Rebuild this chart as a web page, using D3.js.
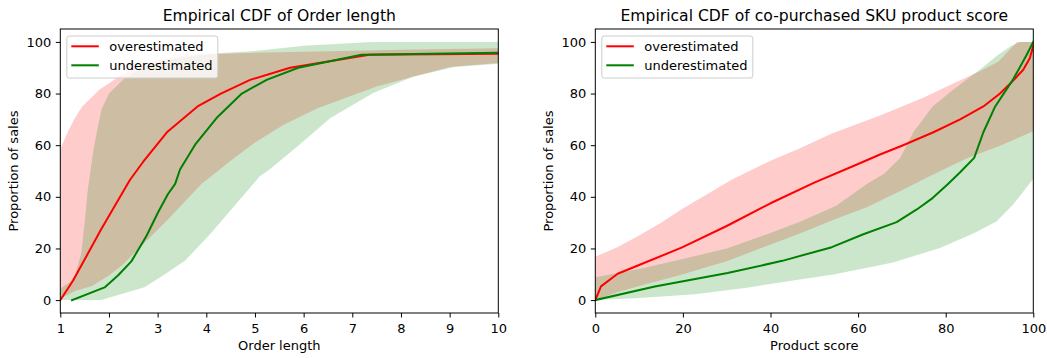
<!DOCTYPE html>
<html><head><meta charset="utf-8">
<script src="https://cdn.jsdelivr.net/npm/d3@7"></script>
<style>
body{margin:0;background:#fff}
svg{display:block}
text{font-family:"DejaVu Sans",sans-serif;fill:#000}
</style>
</head><body>
<svg id="c" width="1047" height="358"></svg>
<script>
// ---------- Data: Order length panel ----------
const olTitle = "Empirical CDF of Order length";
const olXLabel = "Order length";
const olXTicks = [1, 2, 3, 4, 5, 6, 7, 8, 9, 10];
const olLineOverX = [1, 1.26, 1.84, 2.43, 2.7, 3.19, 3.82, 4.3, 4.9, 5.72, 7.35, 10];
const olLineOverY = [0, 7.5, 27.4, 46.5, 53.5, 65, 75, 80, 85.3, 90, 95, 95.4];
const olLineUnderX = [1.24, 1.91, 2.19, 2.46, 2.77, 3.01, 3.21, 3.36, 3.46, 3.77, 4.21, 4.73, 5.24, 5.89, 7.19, 10];
const olLineUnderY = [0, 4.9, 9.6, 15, 24.8, 34, 41, 45, 50.6, 60.2, 70.5, 80, 85.3, 90, 95, 95.8];
const olBandOverUpX = [1, 1.15, 1.3, 1.45, 1.64, 1.8, 2.2, 2.6, 3.0, 3.5, 4, 5, 6, 8, 10];
const olBandOverUpY = [58.5, 65, 70.5, 75, 78.5, 81.5, 86.5, 90.5, 93, 94.5, 95.2, 95.8, 96.2, 97, 97.5];
const olBandOverLoX = [1, 1.3, 1.65, 2, 2.3, 2.8, 3.2, 3.9, 4.5, 5, 5.6, 6.3, 7.5, 8.3, 9, 10];
const olBandOverLoY = [0.5, 3.5, 5.5, 9.5, 14, 23.5, 31, 45, 54, 61, 68, 74.4, 82.7, 86.8, 90.3, 91.8];
const olBandUnderUpX = [1, 1.2, 1.3, 1.43, 1.5, 1.56, 1.62, 1.68, 1.76, 1.85, 2.0, 2.3, 2.65, 3.0, 3.5, 4, 5, 6, 7.4, 10];
const olBandUnderUpY = [4.5, 7, 9.5, 18, 30, 42, 50, 58, 66, 74, 80, 85.5, 89.5, 92, 94, 95.3, 96.5, 98.5, 100, 100];
const olBandUnderLoX = [1, 1.84, 2.73, 3.15, 3.56, 4.1, 4.69, 5.1, 5.3, 5.9, 6.55, 7.43, 8.25, 9.1, 10];
const olBandUnderLoY = [0, 0, 5, 10, 15.2, 26, 39, 48, 50.6, 60, 70.5, 80.2, 86.5, 90.3, 91.5];

// ---------- Data: Product score panel ----------
const psTitle = "Empirical CDF of co-purchased SKU product score";
const psXLabel = "Product score";
const psXTicks = [0, 20, 40, 60, 80, 100];
const psLineOverX = [0, 1.3, 5.1, 10, 19.7, 30, 40, 50, 60, 65, 70, 77.2, 83.3, 88.6, 92.4, 95.4, 97.7, 99.2, 100];
const psLineOverY = [0, 5.3, 10.2, 13.6, 20.3, 28.7, 37.5, 45.5, 52.7, 56.4, 59.8, 65, 70, 75, 80, 85, 89.2, 93.7, 98.5];
const psLineUnderX = [0, 13.6, 30.2, 42.7, 54, 61.2, 68.8, 73.4, 77, 80.4, 83.3, 86.5, 88.6, 91.3, 95.4, 98.5, 100];
const psLineUnderY = [0, 5.3, 10.5, 15.2, 20.5, 25.5, 30.2, 35.1, 39.5, 44.8, 49.5, 55.1, 65, 75, 85.5, 95, 100];
const psBandOverUpX = [0, 5, 10, 15, 20, 31, 40, 47, 54, 65, 75, 80, 88, 92, 96.3, 100];
const psBandOverUpY = [16.8, 20.5, 25, 30, 35.5, 46.5, 54, 59, 64.5, 71.5, 78.5, 82.5, 88.8, 92.3, 100, 100];
const psBandOverLoX = [0, 5, 10, 19, 30, 40, 47, 55, 62, 70, 77, 85, 92, 100];
const psBandOverLoY = [0, 3, 5.5, 9.5, 15, 21.5, 26, 31.5, 36, 42.5, 48.5, 55, 59.5, 65.4];
const psBandUnderUpX = [0, 10, 19, 30, 40, 47, 55, 62, 66, 69.6, 72.6, 77, 81.7, 88, 91.6, 95, 97, 100];
const psBandUnderUpY = [8.8, 12, 15.5, 20, 26, 30.5, 36.5, 45, 49, 55, 65, 75, 81.5, 89.5, 94.5, 98.5, 100, 100];
const psBandUnderLoX = [0, 10, 22.8, 35, 46.7, 54.7, 68, 78.7, 86.3, 91.6, 95.4, 100];
const psBandUnderLoY = [0, 0.8, 2.3, 4.9, 8, 10, 14.6, 20.2, 25.8, 30.4, 37, 47];

const yTicks = [0, 20, 40, 60, 80, 100];
const yLabel = "Proportion of sales";
const seriesNames = ["overestimated", "underestimated"];
const seriesColors = ["#ff0000", "#008000"];

// ---------- Drawing ----------
const svg = d3.select("#c");
const zip = (xs, ys) => xs.map((x, i) => [x, ys[i]]);

const panels = [
  {left: 60.3, right: 498.3, domain: [1, 10], xTicks: olXTicks, title: olTitle, xLabel: olXLabel, yLabX: 17.8,
   bands: [[olBandOverUpX, olBandOverUpY, olBandOverLoX, olBandOverLoY], [olBandUnderUpX, olBandUnderUpY, olBandUnderLoX, olBandUnderLoY]],
   lines: [[olLineOverX, olLineOverY], [olLineUnderX, olLineUnderY]]},
  {left: 595.3, right: 1033.3, domain: [0, 100], xTicks: psXTicks, title: psTitle, xLabel: psXLabel, yLabX: 553,
   bands: [[psBandOverUpX, psBandOverUpY, psBandOverLoX, psBandOverLoY], [psBandUnderUpX, psBandUnderUpY, psBandUnderLoX, psBandUnderLoY]],
   lines: [[psLineOverX, psLineOverY], [psLineUnderX, psLineUnderY]]}
];

const plotTop = 29, plotBottom = 313;
const y = d3.scaleLinear().domain([-5, 105]).range([plotBottom, plotTop]);

panels.forEach((p, pi) => {
  const x = d3.scaleLinear().domain(p.domain).range([p.left, p.right]);
  const g = svg.append("g");
  const clipId = "clip" + pi;
  svg.append("clipPath").attr("id", clipId).append("rect")
    .attr("x", p.left).attr("y", plotTop).attr("width", p.right - p.left).attr("height", plotBottom - plotTop);
  const plot = g.append("g").attr("clip-path", `url(#${clipId})`);
  const line = d3.line().x(d => x(d[0])).y(d => y(d[1]));

  // bands
  p.bands.forEach((b, i) => {
    const pts = zip(b[0], b[1]).concat(zip(b[2], b[3]).reverse());
    plot.append("path").attr("d", line(pts) + "Z")
      .attr("fill", seriesColors[i]).attr("fill-opacity", 0.2).attr("stroke", "none");
  });
  // lines
  p.lines.forEach((l, i) => {
    plot.append("path").attr("d", line(zip(l[0], l[1])))
      .attr("fill", "none").attr("stroke", seriesColors[i]).attr("stroke-width", 2)
      .attr("stroke-linejoin", "round").attr("stroke-linecap", "square");
  });

  // axes
  const xa = g.append("g").attr("transform", `translate(0,${plotBottom})`)
    .call(d3.axisBottom(x).tickValues(p.xTicks).tickFormat(d3.format("d")).tickSize(4.5).tickPadding(4.5));
  const ya = g.append("g").attr("transform", `translate(${p.left},0)`)
    .call(d3.axisLeft(y).tickValues(yTicks).tickFormat(d3.format("d")).tickSize(4.5).tickPadding(4.5));
  [xa, ya].forEach(a => {
    a.select(".domain").remove();
    a.selectAll("text").attr("font-size", 13).attr("font-family", "DejaVu Sans").attr("fill", "#000");
    a.selectAll("line").attr("stroke", "#000").attr("stroke-width", 1);
  });
  xa.selectAll("text").attr("dy", "0.82em");

  // frame
  g.append("rect").attr("x", p.left).attr("y", plotTop).attr("width", p.right - p.left).attr("height", plotBottom - plotTop)
    .attr("fill", "none").attr("stroke", "#000").attr("stroke-width", 1);

  // title and labels
  const cx = (p.left + p.right) / 2;
  g.append("text").attr("x", cx).attr("y", 21.2).attr("text-anchor", "middle").attr("font-size", 15.6).text(p.title);
  g.append("text").attr("x", cx).attr("y", 349.5).attr("text-anchor", "middle").attr("font-size", 13).text(p.xLabel);
  g.append("text").attr("transform", `translate(${p.yLabX},${(plotTop + plotBottom) / 2}) rotate(-90)`)
    .attr("text-anchor", "middle").attr("font-size", 13).text(yLabel);

  // legend
  const lx = p.left + 6.5, ly = 36;
  const leg = g.append("g");
  leg.append("rect").attr("x", lx).attr("y", ly).attr("width", 151).attr("height", 42).attr("rx", 2.5)
    .attr("fill", "#fff").attr("fill-opacity", 0.8).attr("stroke", "#cccccc").attr("stroke-width", 1);
  seriesNames.forEach((n, i) => {
    const yy = ly + 10.3 + i * 19;
    leg.append("line").attr("x1", lx + 4.5).attr("x2", lx + 32).attr("y1", yy).attr("y2", yy)
      .attr("stroke", seriesColors[i]).attr("stroke-width", 2);
    leg.append("text").attr("x", lx + 42.5).attr("y", yy + 4.6).attr("font-size", 13).text(n);
  });
});
</script>
</body></html>
